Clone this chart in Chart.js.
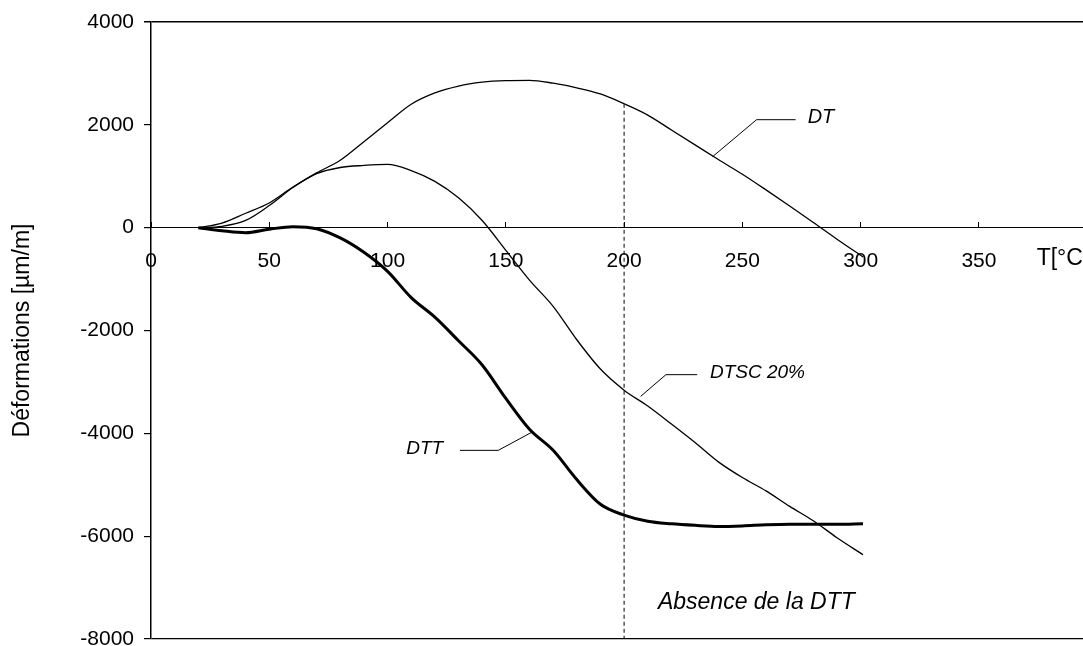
<!DOCTYPE html>
<html>
<head>
<meta charset="utf-8">
<script src="https://cdn.jsdelivr.net/npm/chart.js@4.4.0/dist/chart.umd.min.js"></script>
<style>
  html, body { margin: 0; padding: 0; background: #fff; overflow: hidden; }
  #wrap { width: 1083px; height: 646px; }
</style>
</head>
<body>
<div id="wrap"><canvas id="deformChart"></canvas></div>
<script>
// temperatures (°C)
const temps = [20, 30, 40, 50, 60, 70, 80, 90, 100, 110, 120, 130, 140, 150, 160,
               170, 180, 190, 200, 210, 220, 230, 240, 250, 260, 270, 280, 290, 301];
// deformations [µm/m]
const dtValues   = [0, 90, 280, 480, 790, 1065, 1310, 1670, 2040, 2400, 2620, 2755, 2830, 2860, 2865,
                    2810, 2720, 2600, 2410, 2190, 1900, 1610, 1320, 1040, 735, 420, 100, -225, -570];
const dtscValues = [0, 25, 140, 430, 780, 1050, 1170, 1210, 1230, 1110, 900, 580, 140, -440, -1020,
                    -1530, -2180, -2750, -3160, -3470, -3820, -4180, -4560, -4860, -5120, -5420, -5700, -6030, -6360];
const dttValues  = [0, -60, -100, -30, 20, -20, -200, -480, -850, -1360, -1740, -2200, -2670, -3320, -3920,
                    -4330, -4900, -5380, -5590, -5710, -5760, -5790, -5810, -5800, -5780, -5770, -5770, -5770, -5760];

// vertical dashed marker at 200 °C
const markerTemps  = [200, 200];
const markerValues = [2410, -8000];

// leader lines of the curve labels
const dtLeaderT    = [237.4, 256, 272.5];
const dtLeaderV    = [1381, 2100, 2100];
const dtscLeaderT  = [207, 217.7, 230.9];
const dtscLeaderV  = [-3281, -2859, -2859];
const dttLeaderT   = [160.9, 146.8, 130.6];
const dttLeaderV   = [-3981, -4331, -4331];

const yTickStep = 2000;
const xTickStep = 50;

function toPoints(xs, ys) {
  return xs.map((x, i) => ({ x: x, y: ys[i] }));
}

const FONT = 'Liberation Sans, Arial, Helvetica, sans-serif';

// texts placed in data space
const notes = [
  { text: 'DT', t: 277.6, v: 2150, size: 20, italic: true, align: 'left' },
  { text: 'DTSC 20%', t: 236.3, v: -2814, size: 19, italic: true, align: 'left' },
  { text: 'DTT', t: 123.5, v: -4300, size: 19, italic: true, align: 'right' },
  { text: 'Absence de la DTT', t: 214.3, v: -7294, size: 23, italic: true, align: 'left' },
  { text: 'T[°C]', t: 374.4, v: -610, size: 23, italic: false, align: 'left' }
];

const notesPlugin = {
  id: 'notes',
  afterDatasetsDraw(chart) {
    const ctx = chart.ctx;
    const xs = chart.scales.x, ys = chart.scales.y;
    ctx.save();
    ctx.fillStyle = '#000';
    ctx.textBaseline = 'middle';
    notes.forEach(n => {
      ctx.font = (n.italic ? 'italic ' : '') + n.size + 'px ' + FONT;
      ctx.textAlign = n.align;
      ctx.fillText(n.text, xs.getPixelForValue(n.t), ys.getPixelForValue(n.v));
    });
    ctx.restore();
  }
};

const thin = { borderColor: '#000', pointRadius: 0, fill: false };

new Chart(document.getElementById('deformChart'), {
  type: 'line',
  data: {
    datasets: [
      Object.assign({ label: 'DT', data: toPoints(temps, dtValues), borderWidth: 1.3, cubicInterpolationMode: 'monotone' }, thin),
      Object.assign({ label: 'DTSC 20%', data: toPoints(temps, dtscValues), borderWidth: 1.3, cubicInterpolationMode: 'monotone' }, thin),
      Object.assign({ label: 'DTT', data: toPoints(temps, dttValues), borderWidth: 3, cubicInterpolationMode: 'monotone' }, thin),
      Object.assign({ label: 'marker', data: toPoints(markerTemps, markerValues), borderWidth: 1, borderDash: [4, 3] }, thin),
      Object.assign({ label: 'dtLeader', data: toPoints(dtLeaderT, dtLeaderV), borderWidth: 1 }, thin),
      Object.assign({ label: 'dtscLeader', data: toPoints(dtscLeaderT, dtscLeaderV), borderWidth: 1 }, thin),
      Object.assign({ label: 'dttLeader', data: toPoints(dttLeaderT, dttLeaderV), borderWidth: 1 }, thin)
    ]
  },
  options: {
    responsive: true,
    maintainAspectRatio: false,
    animation: false,
    layout: { padding: { top: 22, bottom: 7, left: 0, right: 0 } },
    plugins: {
      legend: { display: false },
      tooltip: { enabled: false }
    },
    scales: {
      x: {
        type: 'linear',
        position: { y: 0 },
        min: 0,
        max: 394,
        ticks: { stepSize: xTickStep, includeBounds: false, color: '#000', font: { family: FONT, size: 21 }, padding: 27 },
        grid: { drawOnChartArea: false, drawTicks: true, tickLength: -6, color: '#000', lineWidth: 1 },
        border: { color: '#000', width: 1 },
        afterFit: s => { s.paddingLeft = 0; s.paddingRight = 0; }
      },
      y: {
        min: -8000,
        max: 4000,
        ticks: {
          stepSize: yTickStep, color: '#000', font: { family: FONT, size: 21 }, padding: 10,
          callback: v => String(v)
        },
        grid: {
          drawOnChartArea: true,
          color: c => (c.tick && (c.tick.value === 4000 || c.tick.value === -8000)) ? '#000' : 'rgba(0,0,0,0)',
          lineWidth: c => (c.tick && c.tick.value === 4000) ? 1.5 : 1.2,
          tickColor: '#000',
          tickLength: 7
        },
        border: { color: '#000', width: 1.5 },
        title: { display: true, text: 'Déformations [µm/m]', color: '#000', font: { family: FONT, size: 23 }, padding: { top: 9, bottom: 0 } },
        afterFit: s => { s.width = 151; s.paddingTop = 0; s.paddingBottom = 0; }
      }
    }
  },
  plugins: [notesPlugin]
});
</script>
</body>
</html>
